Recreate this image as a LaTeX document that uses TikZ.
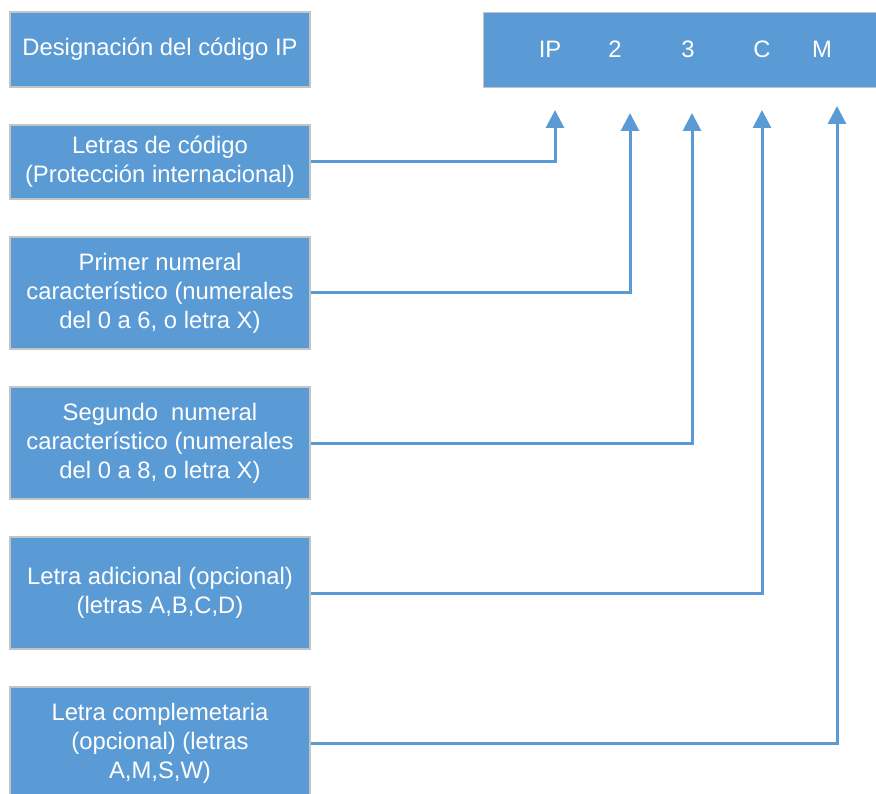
\documentclass[tikz,border=0pt]{standalone}
\usepackage{fontspec}
\setmainfont{Liberation Sans}
\usetikzlibrary{arrows.meta,positioning}
\definecolor{ipblue}{RGB}{91,155,213}
\definecolor{ipgray}{RGB}{196,196,196}

\begin{document}
\begin{tikzpicture}[x=1pt, y=-1pt,
  box/.style={draw=ipgray, line width=1.2pt, fill=ipblue, text=white, align=center,
    minimum width=300pt, inner sep=0pt, font=\fontsize{23.8}{29}\selectfont},
  codeltr/.style={text=white, inner sep=0pt, font=\fontsize{23.8}{29}\selectfont},
  link/.style={draw=ipblue, line width=3pt, -{Triangle[width=18pt,length=18pt]}}]
	\clip (0,0) rectangle (876,794);
	\node[box, minimum height=75pt] (desig) at (160,49.5) {Designación del código IP};
	\node[box, minimum height=74pt] (letras) at (160,162) {Letras de código\\(Protección internacional)};
	\node[box, minimum height=112pt] (primer) at (160,293) {Primer numeral\\característico (numerales\\del 0 a 6, o letra X)};
	\node[box, minimum height=112pt] (segundo) at (160,443) {Segundo\ \ numeral\\característico (numerales\\del 0 a 8, o letra X)};
	\node[box, minimum height=112pt] (adicional) at (160,593) {Letra adicional (opcional)\\(letras A,B,C,D)};
	\node[box, minimum height=112pt] (complem) at (160,743) {Letra complemetaria\\(opcional) (letras\\A,M,S,W)};
	\node[box, minimum width=420pt, minimum height=75pt, anchor=north west] (code) at (483,12) {};
	\node[codeltr] (cIP) at (550,49.5) {IP};
	\node[codeltr] (c2) at (615,49.5) {2};
	\node[codeltr] (c3) at (688,49.5) {3};
	\node[codeltr] (cC) at (762,49.5) {C};
	\node[codeltr] (cM) at (822,49.5) {M};
	\coordinate (tIP) at (555,110);
	\coordinate (t2) at (630,113);
	\coordinate (t3) at (692,113);
	\coordinate (tC) at (762,110);
	\coordinate (tM) at (837,106);
	\draw[link] (letras.east) -| (tIP);
	\draw[link] (primer.east) -| (t2);
	\draw[link] (segundo.east) -| (t3);
	\draw[link] (adicional.east) -| (tC);
	\draw[link] (complem.east) -| (tM);
\end{tikzpicture}
\end{document}
